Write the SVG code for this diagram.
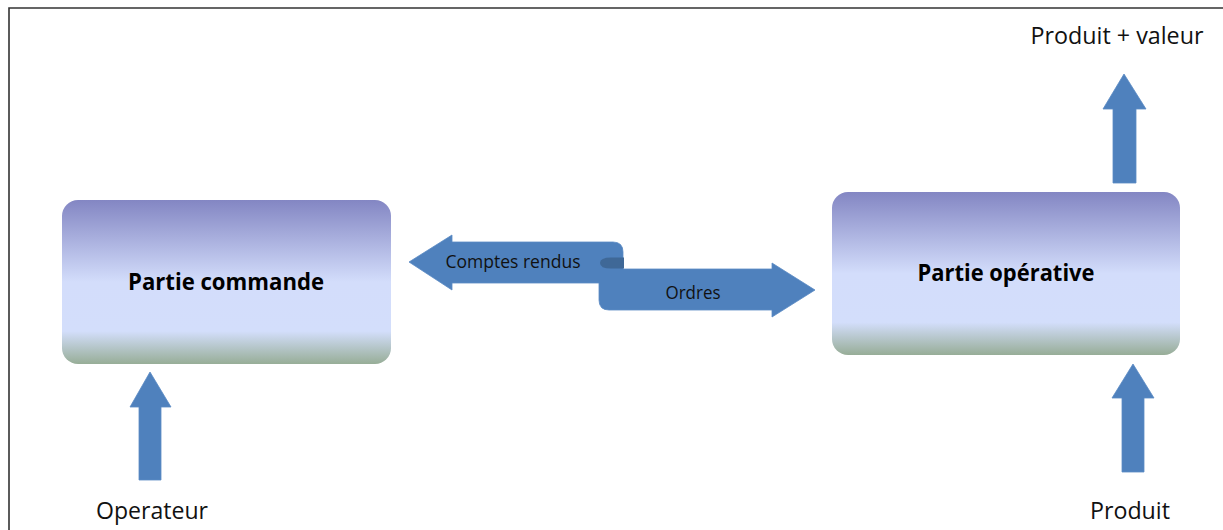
<svg xmlns="http://www.w3.org/2000/svg" width="1223" height="530" viewBox="0 0 1223 530">
  <style>
    .box { stroke: none; }
    .arrow { fill: #4F81BD; stroke: #5A8AC4; stroke-width: 0.8; }
    .label { font-family: "Open Sans", "Liberation Sans", sans-serif; fill: #111; }
    .title { font-family: "Open Sans", "Liberation Sans", sans-serif; font-weight: bold; fill: #000; font-size: 23px; }
    .frame { stroke: #333; stroke-width: 1.6; fill: none; }
  </style>
  <defs>
    <linearGradient id="boxFill" x1="0" y1="0" x2="0" y2="1">
      <stop offset="0" stop-color="#8386C3"/>
      <stop offset="0.5" stop-color="#D3DDFB"/>
      <stop offset="0.8" stop-color="#D3DEFB"/>
      <stop offset="1" stop-color="#97AD97"/>
    </linearGradient>
  </defs>

  <rect width="1223" height="530" fill="#FFFFFF"/>

  <!-- outer frame: top and left edges -->
  <path class="frame" d="M 9 530 L 9 8 L 1223 8"/>

  <g id="partie-commande">
    <rect class="box" x="62" y="200" width="329" height="164" rx="16" fill="url(#boxFill)"/>
    <text class="title" x="226" y="290" text-anchor="middle" textLength="196" lengthAdjust="spacingAndGlyphs">Partie commande</text>
  </g>

  <g id="partie-operative">
    <rect class="box" x="832" y="192" width="348" height="163" rx="16" fill="url(#boxFill)"/>
    <text class="title" x="1006" y="281" text-anchor="middle" textLength="177" lengthAdjust="spacingAndGlyphs">Partie opérative</text>
  </g>

  <g id="operateur">
    <text class="label" x="152" y="519" font-size="23.5" text-anchor="middle" textLength="112" lengthAdjust="spacingAndGlyphs">Operateur</text>
  </g>

  <g id="produit">
    <text class="label" x="1130" y="519" font-size="23.5" text-anchor="middle" textLength="80" lengthAdjust="spacingAndGlyphs">Produit</text>
  </g>

  <g id="produit-valeur">
    <text class="label" x="1117" y="44" font-size="23.5" text-anchor="middle" textLength="173" lengthAdjust="spacingAndGlyphs">Produit + valeur</text>
  </g>

  <g id="connectors">
    <!-- operator input -->
    <path class="arrow" d="M 150 372 L 171 407 L 161 407 L 161 480 L 139 480 L 139 407 L 130 407 Z"/>
    <!-- raw product input -->
    <path class="arrow" d="M 1133 364 L 1154 398 L 1144 398 L 1144 472 L 1122 472 L 1122 398 L 1112 398 Z"/>
    <!-- product with added value output -->
    <path class="arrow" d="M 1124 74 L 1146 109 L 1136 109 L 1136 183 L 1113 183 L 1113 109 L 1103 109 Z"/>

    <!-- ribbon: reports (left) and orders (right) -->
    <g id="ribbon">
      <path class="arrow" d="M 409 262 L 452 235 L 452 242 L 613 242 Q 623 242 623 252 L 623 269 L 772 269 L 772 263 L 815 290 L 772 317 L 772 310 L 609 310 Q 599 310 599 300 L 599 283 L 452 283 L 452 290 Z"/>
      <path d="M 624 257.5 L 611 257.5 Q 600 257.5 600 263 Q 600 268.5 611 268.5 L 624 268.5 Z" fill="#3F6897"/>
      <text class="label" x="513" y="268" font-size="17.5" text-anchor="middle" textLength="135" lengthAdjust="spacingAndGlyphs">Comptes rendus</text>
      <text class="label" x="693" y="299" font-size="17.5" text-anchor="middle" textLength="55" lengthAdjust="spacingAndGlyphs">Ordres</text>
    </g>
  </g>
</svg>
